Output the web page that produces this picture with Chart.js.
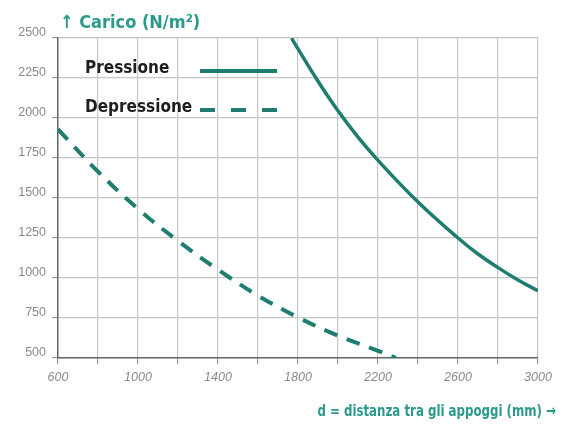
<!DOCTYPE html>
<html>
<head>
<meta charset="utf-8">
<script src="https://cdn.jsdelivr.net/npm/chart.js@4.4.0/dist/chart.umd.min.js"></script>
<style>
  html, body { margin: 0; padding: 0; background: #fff; }
  #wrap { width: 563px; height: 425px; position: relative; }
</style>
</head>
<body>
<div id="wrap"><canvas id="chart"></canvas></div>
<script>
// values
const pressioneD = [1768, 1800, 1900, 2000, 2100, 2200, 2400, 2600, 2700, 2800, 2900, 3000];
const pressioneQ = [2500, 2432, 2230, 2045, 1880, 1735, 1475, 1250, 1150, 1065, 988, 920];

const depressioneD = [600, 800, 1000, 1200, 1400, 1600, 1800, 2000, 2200, 2290];
const depressioneQ = [1930, 1665, 1432, 1232, 1052, 890, 754, 640, 545, 500];

const xLabels = [600, 1000, 1400, 1800, 2200, 2600, 3000];
const yLabels = [500, 750, 1000, 1250, 1500, 1750, 2000, 2250, 2500];

const yTitle = '↑ Carico (N/m²)';
const xTitle = 'd = distanza tra gli appoggi (mm) →';

const teal = '#1f7d70';
const tealText = '#2b9a8b';
const titleFont = '"DejaVu Sans Condensed", "DejaVu Sans", sans-serif';

const toPoints = (xs, ys) => xs.map((x, i) => ({ x, y: ys[i] }));

// axis titles and legend, drawn as text on the canvas
const decorations = {
  id: 'decorations',
  afterDraw(chart) {
    const { ctx, chartArea } = chart;
    ctx.save();
    ctx.fillStyle = tealText;
    ctx.textBaseline = 'alphabetic';
    ctx.font = 'bold 18px ' + titleFont;
    ctx.textAlign = 'left';
    ctx.fillText(yTitle, chartArea.left + 2, 28);

    // bottom title, squeezed a little like the condensed face of the original
    ctx.save();
    ctx.font = 'bold 16px ' + titleFont;
    ctx.textAlign = 'right';
    ctx.translate(556, 416);
    ctx.scale(0.82, 1);
    ctx.fillText(xTitle, 0, 0);
    ctx.restore();

    // legend
    const rows = [
      { y: chartArea.top + 35, ds: chart.data.datasets[0], dash: [] },
      { y: chartArea.top + 74, ds: chart.data.datasets[1], dash: [15, 16] },
    ];
    rows.forEach((r) => {
      ctx.fillStyle = '#1e1e1e';
      ctx.textAlign = 'left';
      ctx.font = 'bold 17px ' + titleFont;
      ctx.fillText(r.ds.label, chartArea.left + 27, r.y);
      ctx.strokeStyle = r.ds.borderColor;
      ctx.lineWidth = 4;
      ctx.setLineDash(r.dash);
      ctx.beginPath();
      ctx.moveTo(chartArea.left + 142, r.y - 2);
      ctx.lineTo(chartArea.left + 219, r.y - 2);
      ctx.stroke();
    });
    ctx.restore();
  },
};

new Chart(document.getElementById('chart').getContext('2d'), {
  type: 'line',
  data: {
    datasets: [
      {
        label: 'Pressione',
        data: toPoints(pressioneD, pressioneQ),
        borderColor: teal,
        borderWidth: 3.5,
        pointRadius: 0,
        tension: 0.4,
        fill: false,
      },
      {
        label: 'Depressione',
        data: toPoints(depressioneD, depressioneQ),
        borderColor: teal,
        borderWidth: 4,
        borderDash: [14, 10],
        pointRadius: 0,
        tension: 0.4,
        fill: false,
      },
    ],
  },
  options: {
    responsive: true,
    maintainAspectRatio: false,
    animation: false,
    layout: {
      padding: { top: 38, right: 25, left: 0, bottom: 0 },
    },
    plugins: {
      legend: { display: false },
      tooltip: { enabled: false },
    },
    scales: {
      x: {
        type: 'linear',
        min: 600,
        max: 3000,
        afterFit: (s) => { s.height = 67; },
        afterBuildTicks: (s) => {
          const t = [];
          for (let v = 600; v <= 3000; v += 200) t.push({ value: v });
          s.ticks = t;
        },
        ticks: {
          autoSkip: false,
          maxRotation: 0,
          padding: 6,
          color: '#8a8a8a',
          font: { family: '"Liberation Sans", Arial, sans-serif', size: 12.5, style: 'italic' },
          callback: (v) => (xLabels.includes(v) ? String(v) : ''),
        },
        grid: { color: '#c6c6c6', lineWidth: 1.2, tickLength: 6, tickColor: '#999' },
        border: { color: '#666', width: 1.5 },
      },
      y: {
        min: 500,
        max: 2500,
        afterFit: (s) => { s.width = 58; },
        afterBuildTicks: (s) => {
          s.ticks = yLabels.map((v) => ({ value: v }));
        },
        ticks: {
          padding: 6,
          labelOffset: -5,
          color: '#8a8a8a',
          font: { family: '"Liberation Sans", Arial, sans-serif', size: 12.5 },
          callback: (v) => String(v),
        },
        grid: { color: '#c6c6c6', lineWidth: 1.2, tickLength: 6, tickColor: '#999' },
        border: { color: '#666', width: 1.5 },
      },
    },
  },
  plugins: [decorations],
});
</script>
</body>
</html>
